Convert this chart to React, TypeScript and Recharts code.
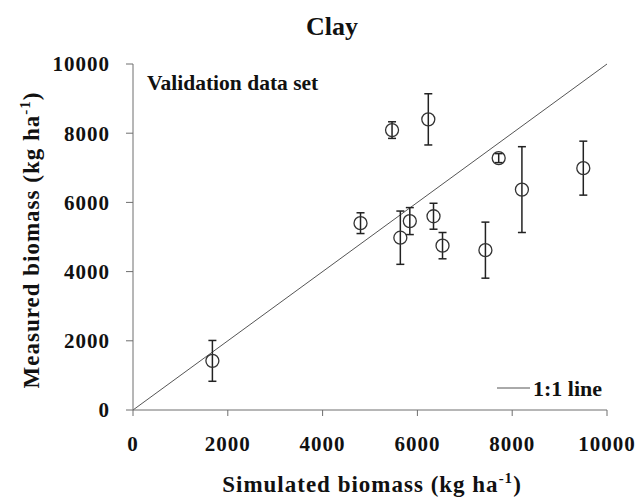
import {
    ScatterChart,
    Scatter,
    XAxis,
    YAxis,
    ErrorBar,
    ReferenceLine,
    Customized,
} from 'recharts';

// simulated vs measured biomass (kg/ha), clay soil, validation set
const simulated = [1675, 4800, 5465, 6230, 5640, 5840, 6340, 6530, 7435, 7715, 8205, 9500];
const measured = [1420, 5400, 8090, 8400, 4980, 5460, 5600, 4750, 4620, 7280, 6370, 6990];
const stdErr = [590, 300, 240, 740, 770, 390, 375, 380, 810, 130, 1240, 780];

const axisTicks = [0, 2000, 4000, 6000, 8000, 10000];
const oneToOne = [
    { x: 0, y: 0 },
    { x: 10000, y: 10000 },
];

const data = simulated.map((s, i) => ({ sim: s, meas: measured[i], err: stdErr[i] }));

const FONT = '"Liberation Serif", "Times New Roman", serif';
const AXIS_COLOR = '#6e6e6e';

const tickStyle = {
    fontFamily: FONT,
    fontWeight: 'bold',
    fontSize: 21,
    letterSpacing: 1,
    fill: '#111',
};

const HollowCircle = (props: any) => {
    const { cx, cy } = props;
    return <circle cx={cx} cy={cy} r={6.5} fill="none" stroke="#333" strokeWidth={1.3} />;
};

const XTitle = ({ viewBox }: any) => {
    const { x, y, width } = viewBox;
    return (
        <text
            x={x + width / 2 + 2}
            y={y + 82}
            textAnchor="middle"
            fontFamily={FONT}
            fontWeight="bold"
            fontSize={23}
            letterSpacing={1}
            fill="#111"
        >
            Simulated biomass (kg ha<tspan dy={-9} fontSize={15}>-1</tspan>
            <tspan dy={9}>)</tspan>
        </text>
    );
};

const YTitle = ({ viewBox }: any) => {
    const { y, height } = viewBox;
    const cx = 39;
    const cy = y + height / 2 + 3;
    return (
        <text
            x={cx}
            y={cy}
            transform={`rotate(-90, ${cx}, ${cy})`}
            textAnchor="middle"
            fontFamily={FONT}
            fontWeight="bold"
            fontSize={23}
            letterSpacing={1}
            fill="#111"
        >
            Measured biomass (kg ha<tspan dy={-9} fontSize={15}>-1</tspan>
            <tspan dy={9}>)</tspan>
        </text>
    );
};

const Annotations = () => (
    <g fontFamily={FONT} fontWeight="bold" fill="#111">
        <text x={332} y={35} textAnchor="middle" fontSize={26}>
            Clay
        </text>
        <text x={147} y={90} fontSize={21.5} letterSpacing={0}>
            Validation data set
        </text>
        <line x1={497} y1={388} x2={530} y2={388} stroke="#555" strokeWidth={1} />
        <text x={533} y={396} fontSize={22}>
            1:1 line
        </text>
    </g>
);

export default function App() {
    return (
        <div style={{ position: 'absolute', left: 0, top: 0, background: '#fff' }}>
            <ScatterChart
                width={641}
                height={500}
                margin={{ top: 64, right: 34, left: 0, bottom: 0 }}
            >
                <XAxis
                    type="number"
                    dataKey="sim"
                    domain={[0, 10000]}
                    ticks={axisTicks}
                    height={90}
                    stroke={AXIS_COLOR}
                    tickSize={6}
                    tickMargin={20}
                    tick={tickStyle}
                    label={{ content: <XTitle /> }}
                />
                <YAxis
                    type="number"
                    dataKey="meas"
                    domain={[0, 10000]}
                    ticks={axisTicks}
                    width={133}
                    stroke={AXIS_COLOR}
                    tickSize={7}
                    tickMargin={16}
                    tick={tickStyle}
                    label={{ content: <YTitle /> }}
                />
                <ReferenceLine segment={oneToOne} stroke="#555" strokeWidth={1} />
                <Scatter data={data} shape={<HollowCircle />} isAnimationActive={false}>
                    <ErrorBar
                        dataKey="err"
                        direction="y"
                        width={4}
                        stroke="#222"
                        strokeWidth={1.5}
                        isAnimationActive={false}
                    />
                </Scatter>
                <Customized component={<Annotations />} />
            </ScatterChart>
        </div>
    );
}
